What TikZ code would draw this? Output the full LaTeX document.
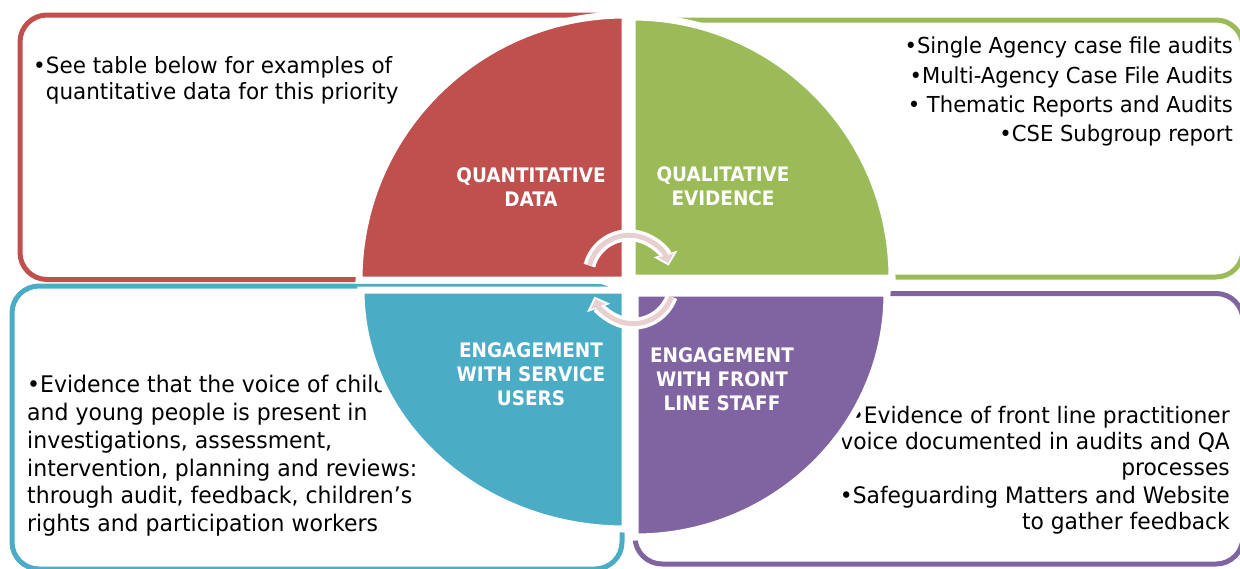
\documentclass[tikz,border=0pt]{standalone}
\usepackage{fontspec}
\setmainfont{DejaVu Sans}[FakeStretch=0.96]
\newfontfamily\labelfont{DejaVu Sans}[FakeStretch=0.92]
\usetikzlibrary{arrows.meta}
\definecolor{qred}{HTML}{C0504D}
\definecolor{qgreen}{HTML}{9BBB59}
\definecolor{qblue}{HTML}{4BACC6}
\definecolor{qpurple}{HTML}{8064A2}
\definecolor{qarrow}{HTML}{E8D0D0}
\begin{document}
\begin{tikzpicture}[x=1pt,y=-1pt,
  frame/.style={line width=5pt, rounded corners=27pt},
  quad/.style={draw=white, line width=7pt},
  body/.style={inner sep=0pt, text=black, font=\fontsize{22}{26}\selectfont},
  lab/.style={inner sep=0pt, text=white, align=center, font=\labelfont\bfseries\fontsize{20}{24}\selectfont},
  halo/.style={white, line width=12pt, -{Triangle[length=12pt,width=24pt]}},
  core/.style={qarrow, line width=5pt, shorten >=2.5pt, -{Triangle[length=8pt,width=15pt]}},
]
\useasboundingbox (0,0) rectangle (1240,568);
% frames
\draw[frame, qred] (20,15) rectangle (620,279.5);
\draw[frame, qgreen] (637,20) rectangle (1243,277);
\draw[frame, qblue] (12,286) rectangle (622,569);
\draw[frame, qpurple] (635,293.5) rectangle (1243,564);
% texts
\node[body, anchor=north west, align=left, font=\fontsize{22.4}{26}\selectfont] (tq) at (33,56)
  {•See table below for examples of\\\phantom{•}quantitative data for this priority};
\node[body, anchor=north east, align=right, font=\fontsize{22}{29.3}\selectfont] (tg) at (1233,37)
  {•Single Agency case file audits\\•Multi-Agency Case File Audits\\• Thematic Reports and Audits\\•CSE Subgroup report};
\node[body, anchor=north west, align=left, font=\fontsize{22.9}{27.8}\selectfont] (tb) at (27,375)
  {•Evidence that the voice of child\\and young people is present in\\investigations, assessment,\\intervention, planning and reviews:\\through audit, feedback, children's\\rights and participation workers};
\node[body, anchor=north east, align=right, font=\fontsize{22.7}{26}\selectfont] (tp) at (1230,406)
  {•Evidence of front line practitioner\\voice documented in audits and QA\\processes\\[2pt]•Safeguarding Matters and Website\\to gather feedback};
% quadrants
\filldraw[quad, fill=qred] (625,280) -- (359,280) arc[start angle=180, end angle=270, x radius=266, y radius=265] -- cycle;
\filldraw[quad, fill=qgreen] (632,278) -- (632,17) arc[start angle=270, end angle=360, x radius=260, y radius=261] -- cycle;
\filldraw[quad, fill=qblue] (625,290) -- (361,290) arc[start angle=180, end angle=90, x radius=264, y radius=239] -- cycle;
\filldraw[quad, fill=qpurple] (635,293) -- (887,293) arc[start angle=0, end angle=90, x radius=252, y radius=244] -- cycle;
% labels
\node[lab] (lq) at (531,187) {QUANTITATIVE\\DATA};
\node[lab] (lg) at (723,186) {QUALITATIVE\\EVIDENCE};
\node[lab] (lb) at (531,374) {ENGAGEMENT\\WITH SERVICE\\USERS};
\node[lab] (lp) at (722,379) {ENGAGEMENT\\WITH FRONT\\LINE STAFF};
% cycle arrows
\coordinate (ta) at (589.4,265.6);
\coordinate (ba) at (671.6,296.7);
\draw[halo] (ta) arc[start angle=195, end angle=345, radius=41];
\draw[core] (ta) arc[start angle=195, end angle=345, radius=41];
\draw[halo] (ba) arc[start angle=20, end angle=160, radius=41];
\draw[core] (ba) arc[start angle=20, end angle=160, radius=41];
\end{tikzpicture}
\end{document}
